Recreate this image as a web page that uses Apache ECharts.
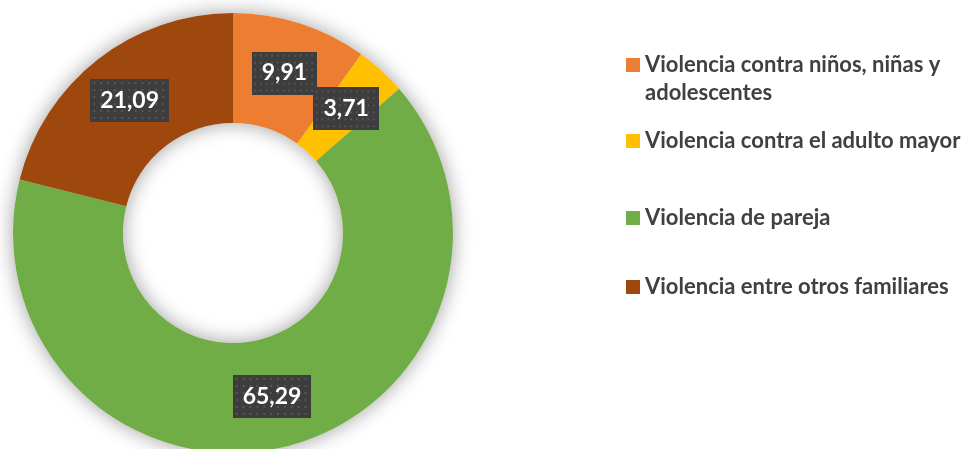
<!DOCTYPE html>
<html>
<head>
<meta charset="utf-8">
<script src="https://cdn.jsdelivr.net/npm/echarts@6/dist/echarts.min.js"></script>
<style>
  html, body { margin: 0; padding: 0; background: #fff; }
  #root { width: 972px; height: 449px; }
</style>
</head>
<body>
<div id="root"></div>
<script>
  // datos
  const categorias = [
    'Violencia contra niños, niñas y adolescentes',
    'Violencia contra el adulto mayor',
    'Violencia de pareja',
    'Violencia entre otros familiares'
  ];
  const valores = [9.91, 3.71, 65.29, 21.09];
  const colores = ['#ED7D31', '#FFC000', '#70AD47', '#9E480E'];

  // textura punteada de las etiquetas
  function textura() {
    const c = document.createElement('canvas');
    c.width = 80; c.height = 43;
    const ctx = c.getContext('2d');
    ctx.fillStyle = '#3d3d3d';
    ctx.fillRect(0, 0, c.width, c.height);
    ctx.fillStyle = '#575757';
    for (let y = 3; y < c.height; y += 7) {
      for (let x = 3; x < c.width; x += 7) {
        ctx.fillRect(x, y, 2, 2);
      }
    }
    return c;
  }
  const fondo = textura();

  let myChart = echarts.init(document.querySelector('#root'));

  const txtLeyenda = {
    color: '#404040',
    fontFamily: 'Lato',
    fontWeight: 'bold',
    fontSize: 22,
    lineHeight: 22
  };

  function leyenda(i, top, extra) {
    return Object.assign({
      orient: 'vertical',
      left: 626,
      top: top,
      padding: 0,
      itemWidth: 14,
      itemHeight: 14,
      icon: 'rect',
      selectedMode: false,
      data: [categorias[i]],
      textStyle: Object.assign({}, txtLeyenda)
    }, extra || {});
  }

  let option = {
    animation: false,
    legend: [
      // primera linea vacia para que el cuadro quede junto a la primera linea
      leyenda(0, 23, {
        formatter: n => '\nViolencia contra niños, niñas y\nadolescentes',
        textStyle: Object.assign({}, txtLeyenda, { lineHeight: 28 })
      }),
      leyenda(1, 130),
      leyenda(2, 207),
      leyenda(3, 276)
    ],
    series: [
      {
        type: 'pie',
        z: 3,
        center: [233, 233],
        radius: [110, 220],
        startAngle: 90,
        clockwise: true,
        avoidLabelOverlap: false,
        minShowLabelAngle: 0,
        labelLayout: { hideOverlap: false },
        data: categorias.map((n, i) => ({ name: n, value: valores[i], itemStyle: { color: colores[i] } })),
        label: {
          show: true,
          position: 'inside',
          formatter: p => p.value.toFixed(2).replace('.', ','),
          color: '#fff',
          fontFamily: 'Lato',
          fontWeight: 'bold',
          fontSize: 23,
          lineHeight: 23,
          padding: [10, 10],
          backgroundColor: { image: fondo },
          shadowColor: 'rgba(0,0,0,0.55)',
          shadowBlur: 4,
          shadowOffsetX: 2,
          shadowOffsetY: 2
        },
        labelLine: { show: false },
        emphasis: { disabled: true }
      },
      {
        // sombra suave detras del anillo
        type: 'pie',
        z: 1,
        silent: true,
        center: [233, 233],
        radius: [110, 220],
        startAngle: 90,
        data: categorias.map((n, i) => ({ name: n, value: valores[i] })),
        itemStyle: {
          color: '#ffffff',
          shadowBlur: 20,
          shadowColor: 'rgba(0,0,0,0.38)'
        },
        label: { show: false },
        labelLine: { show: false },
        emphasis: { disabled: true }
      }
    ]
  };

  myChart.setOption(option);
</script>
</body>
</html>
